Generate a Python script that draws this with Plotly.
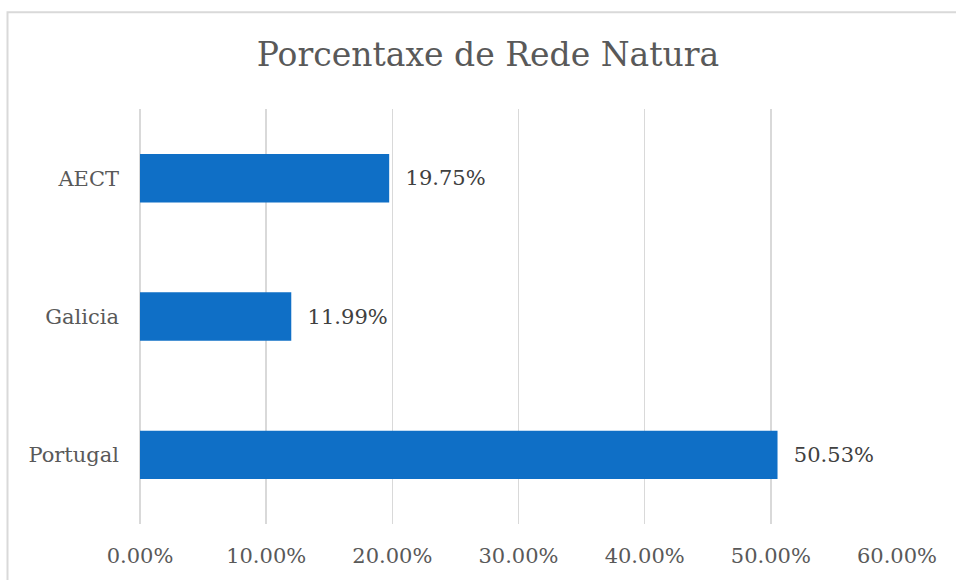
import plotly.graph_objects as go

categories = ["AECT", "Galicia", "Portugal"]
values = [0.1975, 0.1199, 0.5053]
title_text = "Porcentaxe de Rede Natura"
tick_vals = [0.0, 0.1, 0.2, 0.3, 0.4, 0.5, 0.6]

W, H = 956, 580
L, R, T, B = 140, W - 897, 109, H - 527
pw, ph = W - L - R, H - T - B

FONT = "DejaVu Serif"

fig = go.Figure(
    go.Bar(
        y=categories,
        x=values,
        orientation="h",
        marker=dict(color="#0F6FC6", line=dict(width=0)),
        text=["\u00a0\u00a0" + f"{v*100:.2f}%" for v in values],
        textposition="outside",
        textfont=dict(family=FONT, size=21, color="#404040"),
        cliponaxis=False,
        hoverinfo="skip",
    )
)

fig.update_layout(
    width=W,
    height=H,
    margin=dict(l=L, r=R, t=T, b=B, pad=0),
    paper_bgcolor="white",
    plot_bgcolor="white",
    bargap=0.65,
    showlegend=False,
    font=dict(family=FONT, color="#595959"),
    title=dict(
        text=title_text,
        font=dict(family=FONT, size=33, color="#595959"),
        xref="paper",
        x=(488 - L) / pw,
        xanchor="center",
        yref="container",
        y=1 - 54 / H,
        yanchor="middle",
    ),
    xaxis=dict(
        range=[0, 0.6],
        tickvals=tick_vals,
        tickformat=".2%",
        showgrid=True,
        gridcolor="#d9d9d9",
        gridwidth=1.5,
        zeroline=True,
        zerolinecolor="#d9d9d9",
        zerolinewidth=1.5,
        showline=False,
        ticks="",
        tickfont=dict(family=FONT, size=21, color="#595959"),
        ticklabelstandoff=17,
        fixedrange=True,
    ),
    yaxis=dict(
        categoryorder="array",
        categoryarray=categories,
        autorange="reversed",
        showgrid=False,
        zeroline=False,
        showline=False,
        ticks="",
        tickfont=dict(family=FONT, size=21, color="#595959"),
        ticklabelstandoff=20,
        fixedrange=True,
    ),
    shapes=[
        dict(
            type="rect",
            xref="paper",
            yref="paper",
            x0=(7.5 - L) / pw,
            x1=(W + 20 - L) / pw,
            y0=(H - B - (H + 20)) / ph,
            y1=(H - B - 11.5) / ph,
            line=dict(color="#d9d9d9", width=2),
            fillcolor="rgba(0,0,0,0)",
            layer="below",
        )
    ],
)

fig.write_html(
    "out.html",
    config={"displayModeBar": False, "staticPlot": True},
    post_script="document.body.style.margin='0';document.body.style.padding='0';",
)
